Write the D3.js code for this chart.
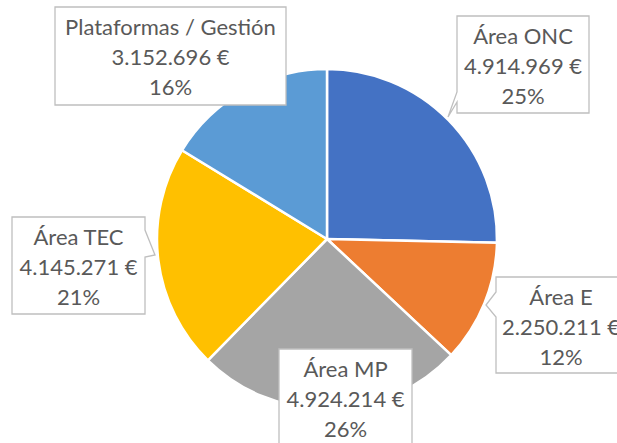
<!DOCTYPE html>
<html lang="es">
<head>
<meta charset="UTF-8">
<title>Reparto por área</title>
<script src="https://cdn.jsdelivr.net/npm/d3@7"></script>
<style>
  body { margin: 0; background: #fff; }
  text { font-family: Lato, "Open Sans", sans-serif; fill: #595959; }
</style>
</head>
<body>
<script>
// datos
var categories = ["Área ONC", "Área E", "Área MP", "Área TEC", "Plataformas / Gestión"];
var values = [4914969, 2250211, 4924214, 4145271, 3152696];
var percentLabels = ["25%", "12%", "26%", "21%", "16%"];
var colors = ["#4472C4", "#ED7D31", "#A5A5A5", "#FFC000", "#5B9BD5"];

var width = 617, height = 443;
var cx = 327, cy = 239, radius = 170;

// cajas de etiqueta (x, y, ancho, alto) y punta de la flecha
var boxes = [
  {x: 457, y: 16,  w: 132, h: 97,  side: "left",  t0: 92,  t1: 102, tip: [448, 117]},
  {x: 496, y: 277, w: 130, h: 96,  side: "left",  t0: 292, t1: 317, tip: [486, 305]},
  {x: 279, y: 349, w: 133, h: 97,  side: null},
  {x: 12,  y: 217, w: 133, h: 97,  side: "right", t0: 230, t1: 257, tip: [155, 255]},
  {x: 55,  y: 7,   w: 231, h: 98,  side: null}
];

var es = d3.formatLocale({decimal: ",", thousands: ".", grouping: [3], currency: ["", " €"]});
var fmt = es.format("$,.0f");

var svg = d3.select("body").append("svg")
  .attr("width", width)
  .attr("height", height);

var pie = d3.pie().sort(null).value(function(d){ return d; });
var arc = d3.arc().innerRadius(0).outerRadius(radius);

var g = svg.append("g").attr("transform", "translate(" + cx + "," + cy + ")");
g.selectAll("path")
  .data(pie(values))
  .enter().append("path")
  .attr("d", arc)
  .attr("fill", function(d, i){ return colors[i]; })
  .attr("stroke", "#fff")
  .attr("stroke-width", 2.5)
  .attr("stroke-linejoin", "round");

// contorno de la caja con su flecha
function boxPath(b) {
  var x0 = b.x, y0 = b.y, x1 = b.x + b.w, y1 = b.y + b.h;
  if (b.side === "left") {
    return "M" + x0 + "," + y0 + "H" + x1 + "V" + y1 + "H" + x0 +
      "V" + b.t1 + "L" + b.tip[0] + "," + b.tip[1] + "L" + x0 + "," + b.t0 + "Z";
  }
  if (b.side === "right") {
    return "M" + x0 + "," + y0 + "H" + x1 + "V" + b.t0 +
      "L" + b.tip[0] + "," + b.tip[1] + "L" + x1 + "," + b.t1 +
      "V" + y1 + "H" + x0 + "Z";
  }
  return "M" + x0 + "," + y0 + "H" + x1 + "V" + y1 + "H" + x0 + "Z";
}

var labels = svg.selectAll("g.label")
  .data(categories)
  .enter().append("g")
  .attr("class", "label");

labels.append("path")
  .attr("d", function(d, i){ return boxPath(boxes[i]); })
  .attr("fill", "#fff")
  .attr("stroke", "#BFBFBF")
  .attr("stroke-width", 1.3);

labels.each(function(d, i){
  var b = boxes[i];
  var lines = [d, fmt(values[i]), percentLabels[i]];
  d3.select(this).selectAll("text")
    .data(lines)
    .enter().append("text")
    .attr("x", b.x + b.w / 2)
    .attr("y", function(t, j){ return b.y + 28 + j * 30; })
    .attr("text-anchor", "middle")
    .attr("font-size", 22)
    .text(function(t){ return t; });
});
</script>
</body>
</html>
